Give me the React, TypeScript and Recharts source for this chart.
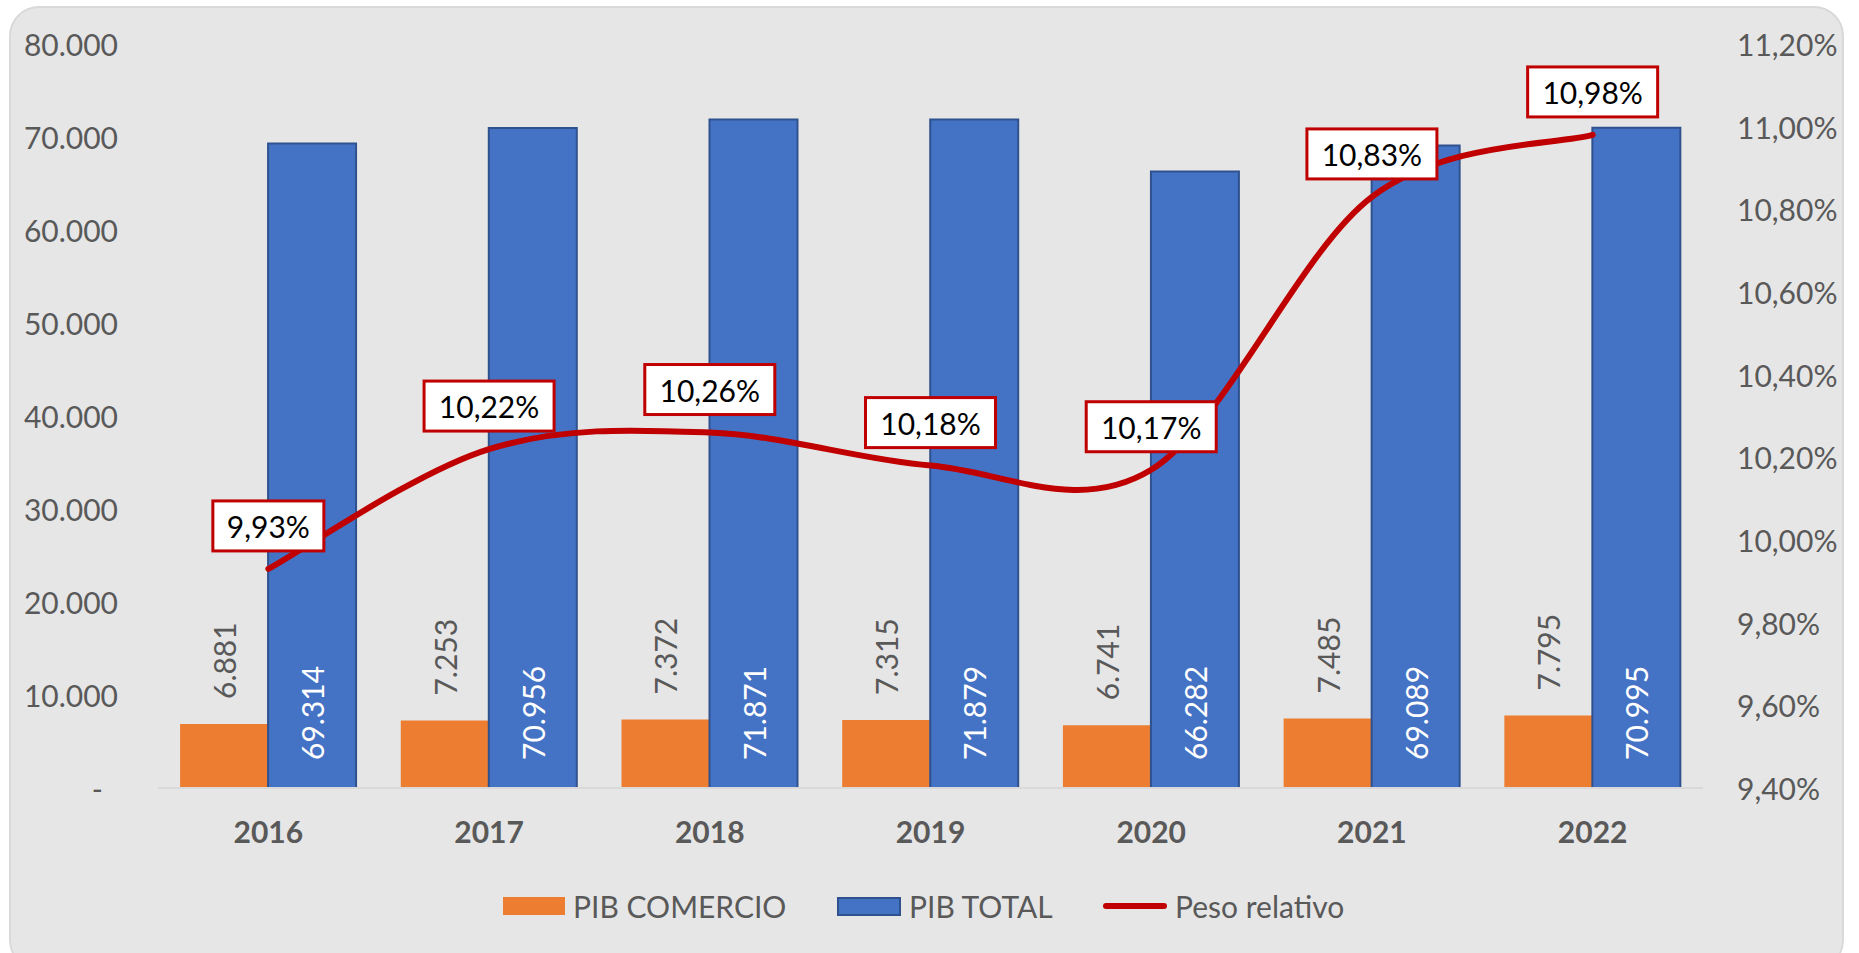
import { Bar, ComposedChart, LabelList, Line, XAxis, YAxis } from "recharts"

const years = ["2016", "2017", "2018", "2019", "2020", "2021", "2022"]
const pibComercio = [6881, 7253, 7372, 7315, 6741, 7485, 7795]
const pibTotal = [69314, 70956, 71871, 71879, 66282, 69089, 70995]
const pesoRelativo = [9.93, 10.22, 10.26, 10.18, 10.17, 10.83, 10.98]

const leftTicks = [0, 10000, 20000, 30000, 40000, 50000, 60000, 70000, 80000]
const rightTicks = [9.4, 9.6, 9.8, 10, 10.2, 10.4, 10.6, 10.8, 11, 11.2]

const data = years.map((year, i) => ({
  year,
  comercio: pibComercio[i],
  total: pibTotal[i],
  peso: pesoRelativo[i],
}))

const COLORS = {
  comercio: "#ed7d31",
  total: "#4472c4",
  totalBorder: "#2f528f",
  peso: "#c00000",
  text: "#595959",
  bg: "#e6e6e6",
}

const FONT = "Lato, 'Open Sans', sans-serif"

const thousands = (v: number) => String(v).replace(/\B(?=(\d{3})+(?!\d))/g, ".")
const percent = (v: number) => v.toFixed(2).replace(".", ",") + "%"

// excel style smoothed line (cardinal spline, tension 0)
function excelSmooth(context: any) {
  let pts: number[][] = []
  return {
    areaStart() {},
    areaEnd() {},
    lineStart() {
      pts = []
    },
    point(x: number, y: number) {
      pts.push([+x, +y])
    },
    lineEnd() {
      if (!pts.length) return
      context.moveTo(pts[0][0], pts[0][1])
      for (let i = 0; i < pts.length - 1; i++) {
        const p0 = pts[i - 1] || pts[i]
        const p1 = pts[i]
        const p2 = pts[i + 1]
        const p3 = pts[i + 2] || p2
        context.bezierCurveTo(
          p1[0] + (p2[0] - p0[0]) / 6,
          p1[1] + (p2[1] - p0[1]) / 6,
          p2[0] - (p3[0] - p1[0]) / 6,
          p2[1] - (p3[1] - p1[1]) / 6,
          p2[0],
          p2[1]
        )
      }
    },
  }
}

const LeftTick = (props: any) => {
  const { y, payload } = props
  const zero = payload.value === 0
  return (
    <text
      x={zero ? 103 : 118}
      y={y}
      textAnchor="end"
      dominantBaseline="central"
      fill={COLORS.text}
      fontSize={30}
      fontFamily={FONT}
    >
      {zero ? "-" : thousands(payload.value)}
    </text>
  )
}

const RightTick = (props: any) => {
  const { y, payload } = props
  return (
    <text
      x={1737}
      y={y}
      textAnchor="start"
      dominantBaseline="central"
      fill={COLORS.text}
      fontSize={30}
      fontFamily={FONT}
    >
      {percent(payload.value)}
    </text>
  )
}

const YearTick = (props: any) => {
  const { x, y, payload } = props
  return (
    <text
      x={x}
      y={y + 35}
      textAnchor="middle"
      dominantBaseline="central"
      fill={COLORS.text}
      fontSize={30}
      fontWeight="bold"
      fontFamily={FONT}
    >
      {payload.value}
    </text>
  )
}

const ComercioLabel = (props: any) => {
  const { x, y, width, value } = props
  const cx = x + width / 2
  const ty = y - 25
  return (
    <text
      x={cx}
      y={ty}
      transform={`rotate(-90, ${cx}, ${ty})`}
      textAnchor="start"
      dominantBaseline="central"
      fill={COLORS.text}
      fontSize={30}
      fontFamily={FONT}
    >
      {thousands(value)}
    </text>
  )
}

const TotalLabel = (props: any) => {
  const { x, y, width, height, value } = props
  const cx = x + width / 2
  const ty = y + height - 28
  return (
    <text
      x={cx}
      y={ty}
      transform={`rotate(-90, ${cx}, ${ty})`}
      textAnchor="start"
      dominantBaseline="central"
      fill="#ffffff"
      fontSize={30}
      fontFamily={FONT}
    >
      {thousands(value)}
    </text>
  )
}

const PesoLabel = (props: any) => {
  const { x, y, value } = props
  const txt = percent(value)
  const w = txt.length * 19 + 16
  const cy = y - 43
  return (
    <g>
      <rect
        x={x - w / 2}
        y={cy - 25}
        width={w}
        height={50}
        fill="#ffffff"
        stroke={COLORS.peso}
        strokeWidth={3}
      />
      <text
        x={x}
        y={cy}
        textAnchor="middle"
        dominantBaseline="central"
        fill="#000000"
        fontSize={30}
        fontFamily={FONT}
      >
        {txt}
      </text>
    </g>
  )
}

const legendItems = [
  { label: "PIB COMERCIO", left: 503, kind: "comercio" },
  { label: "PIB TOTAL", left: 837, kind: "total" },
  { label: "Peso relativo", left: 1103, kind: "peso" },
]

export default function App() {
  return (
    <div
      style={{
        position: "absolute",
        left: 0,
        top: 0,
        width: 1859,
        height: 953,
        background: "#ffffff",
        overflow: "hidden",
        fontFamily: FONT,
      }}
    >
      <div
        style={{
          position: "absolute",
          left: 9,
          top: 6,
          width: 1831,
          height: 960,
          background: COLORS.bg,
          border: "2px solid #d9d9d9",
          borderRadius: 30,
        }}
      />
      <div style={{ position: "absolute", left: 0, top: 0 }}>
        <ComposedChart
          width={1859}
          height={953}
          data={data}
          margin={{ top: 44, right: 0, bottom: 0, left: 0 }}
          barCategoryGap="10%"
          barGap={0}
        >
          <XAxis
            dataKey="year"
            height={165}
            axisLine={{ stroke: "#d9d9d9", strokeWidth: 2 }}
            tickLine={false}
            tick={<YearTick />}
            interval={0}
          />
          <YAxis
            yAxisId="left"
            width={158}
            domain={[0, 80000]}
            ticks={leftTicks}
            axisLine={false}
            tickLine={false}
            tick={<LeftTick />}
            interval={0}
          />
          <YAxis
            yAxisId="right"
            orientation="right"
            width={156}
            domain={[9.4, 11.2]}
            ticks={rightTicks}
            axisLine={false}
            tickLine={false}
            tick={<RightTick />}
            interval={0}
          />
          <Bar yAxisId="left" dataKey="comercio" fill={COLORS.comercio} isAnimationActive={false} name="PIB COMERCIO">
            <LabelList dataKey="comercio" content={<ComercioLabel />} />
          </Bar>
          <Bar
            yAxisId="left"
            dataKey="total"
            fill={COLORS.total}
            stroke={COLORS.totalBorder}
            strokeWidth={2}
            isAnimationActive={false}
            name="PIB TOTAL"
          >
            <LabelList dataKey="total" content={<TotalLabel />} />
          </Bar>
          <Line
            yAxisId="right"
            dataKey="peso"
            type={excelSmooth as any}
            stroke={COLORS.peso}
            strokeWidth={6}
            strokeLinecap="round"
            dot={false}
            activeDot={false}
            isAnimationActive={false}
            name="Peso relativo"
          >
            <LabelList dataKey="peso" content={<PesoLabel />} />
          </Line>
        </ComposedChart>
      </div>
      {legendItems.map((item) => (
        <div
          key={item.label}
          style={{
            position: "absolute",
            left: item.left,
            top: 887,
            height: 38,
            display: "flex",
            alignItems: "center",
            gap: 8,
            color: COLORS.text,
            fontSize: 30,
            whiteSpace: "nowrap",
          }}
        >
          {item.kind === "peso" ? (
            <div style={{ width: 64, height: 6, borderRadius: 3, background: COLORS.peso }} />
          ) : (
            <div
              style={{
                width: item.kind === "total" ? 60 : 62,
                height: item.kind === "total" ? 15 : 18,
                background: item.kind === "total" ? COLORS.total : COLORS.comercio,
                border: item.kind === "total" ? `2px solid ${COLORS.totalBorder}` : "none",
              }}
            />
          )}
          <span>{item.label}</span>
        </div>
      ))}
    </div>
  )
}
